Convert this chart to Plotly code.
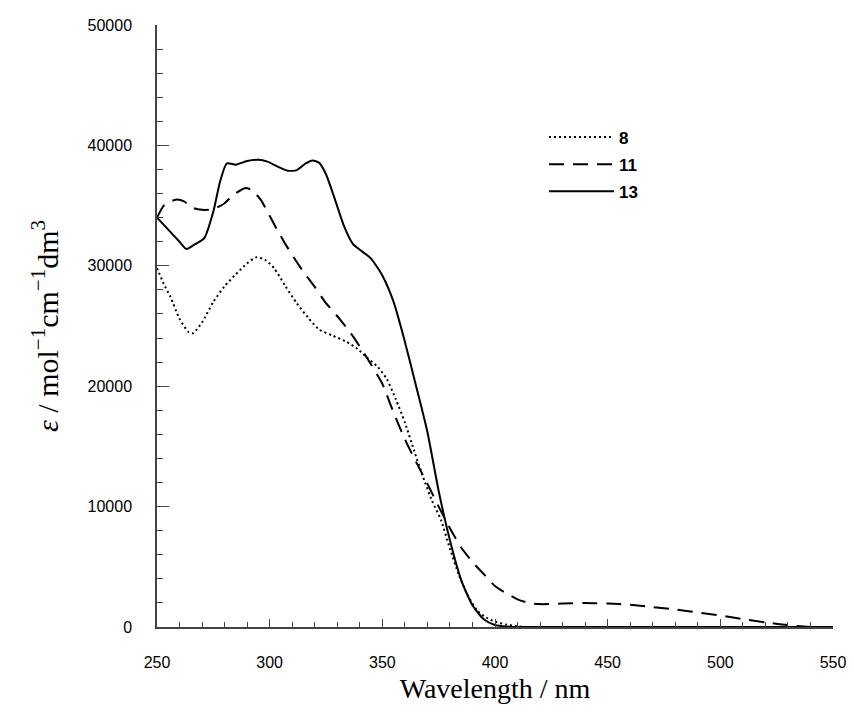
import plotly.graph_objects as go

# Series 8 (dotted)
wl_8 = [250, 253, 256, 260, 264, 266, 270, 275, 280, 285, 290, 294, 298, 302, 307, 312,
        317, 322, 328, 334, 339, 343, 348, 352, 356, 360, 364, 368, 372, 376, 380, 384,
        388, 392, 396, 400, 405, 410, 413]
eps_8 = [29800, 28500, 27400, 25600, 24500, 24400, 25300, 27000, 28300, 29300, 30200, 30700,
         30500, 29800, 28300, 26900, 25700, 24700, 24200, 23700, 23100, 22400, 21600, 20600,
         18900, 17000, 14700, 12500, 10500, 8900, 6500, 4300, 2600, 1400, 800, 450, 200, 60, 0]

# Series 11 (dashed)
wl_11 = [250, 253, 256, 259, 262, 266, 270, 275, 280, 284, 289, 292, 296, 299, 303, 307,
         311, 315, 320, 325, 331, 336, 341, 345, 350, 355, 360, 365, 370, 375, 380, 385,
         390, 395, 400, 405, 410, 415, 420, 430, 440, 450, 460, 470, 480, 490, 500, 510,
         520, 530, 540]
eps_11 = [34000, 35000, 35350, 35500, 35350, 34800, 34650, 34700, 35200, 35900, 36450, 36300,
          35500, 34500, 33100, 31800, 30600, 29500, 28250, 26900, 25600, 24400, 23000, 21800,
          20200, 17800, 15600, 13700, 11900, 10000, 8200, 6600, 5400, 4400, 3400, 2800, 2300,
          2000, 1900, 1950, 2000, 1950, 1850, 1650, 1450, 1200, 950, 650, 380, 150, 0]

# Series 13 (solid)
wl_13 = [250, 255, 260, 263, 267, 271, 275, 278, 281, 285, 290, 295, 299, 304, 308, 312,
         316, 319, 322, 325, 329, 333, 337, 341, 345, 350, 355, 360, 365, 370, 375, 380,
         385, 390, 395, 400, 405, 410, 550]
eps_13 = [34000, 33000, 32000, 31400, 31800, 32300, 34500, 37000, 38500, 38400, 38700, 38800,
          38650, 38200, 37900, 37950, 38500, 38750, 38550, 37600, 35500, 33300, 31800, 31200,
          30600, 29200, 27000, 23700, 20000, 16200, 11300, 7200, 3900, 1800, 650, 170, 40, 0, 0]

series_names = ["8", "11", "13"]

x_ticks = [250, 300, 350, 400, 450, 500, 550]
y_ticks = [0, 10000, 20000, 30000, 40000, 50000]

fig = go.Figure()
fig.add_trace(go.Scatter(x=wl_8, y=eps_8, mode="lines", name=series_names[0],
                         legendgroup="a",
                         line=dict(color="black", width=2, dash="2px,3px",
                                   shape="spline", smoothing=0.6)))
fig.add_trace(go.Scatter(x=wl_11, y=eps_11, mode="lines", name=series_names[1],
                         legendgroup="b",
                         line=dict(color="black", width=2, dash="15px,9px",
                                   shape="spline", smoothing=0.6)))
fig.add_trace(go.Scatter(x=wl_13, y=eps_13, mode="lines", name=series_names[2],
                         legendgroup="c",
                         line=dict(color="black", width=2,
                                   shape="spline", smoothing=0.6)))

tick_font = dict(family="Liberation Sans Narrow, Arial Narrow, Liberation Sans, sans-serif",
                 size=16, color="black")
title_font = dict(family="Liberation Serif, Times New Roman, serif", size=28, color="black")
ytitle_font = dict(family="Liberation Serif, Times New Roman, serif", size=30, color="black")

# The page body keeps an 8px margin, so the figure is 16px smaller than the window
fig.update_layout(
    width=838, height=708,
    margin=dict(l=149, r=13, t=17, b=89, autoexpand=False),
    paper_bgcolor="white", plot_bgcolor="white",
    showlegend=True,
    legend=dict(x=0.5725, y=0.843, xanchor="left", yanchor="top",
                bgcolor="rgba(0,0,0,0)", traceorder="grouped", tracegroupgap=2,
                itemwidth=65,
                font=dict(family="Liberation Sans, Arial, sans-serif", size=17,
                          color="black", weight="bold")),
    xaxis=dict(range=[250, 550], tickvals=x_ticks, ticktext=[str(v) for v in x_ticks],
               automargin=False,
               showline=True, linecolor="#444", linewidth=1.5, mirror=False,
               ticks="inside", ticklen=8, tickwidth=1.2, tickcolor="#444",
               minor=dict(dtick=10, tick0=250, ticks="inside", ticklen=5,
                          tickwidth=1, tickcolor="#444"),
               showgrid=False, zeroline=False, tickfont=tick_font,
               ticklabelstandoff=20, ticklabeloverflow="allow",
               title=dict(text="Wavelength / nm", font=title_font, standoff=8)),
    yaxis=dict(range=[0, 50000], tickvals=y_ticks, ticktext=[str(v) for v in y_ticks],
               automargin=False,
               showline=True, linecolor="#444", linewidth=1.5, mirror=False,
               ticks="inside", ticklen=12, tickwidth=1.2, tickcolor="#444",
               minor=dict(dtick=2000, tick0=0, ticks="inside", ticklen=6,
                          tickwidth=1, tickcolor="#444"),
               showgrid=False, zeroline=False, tickfont=tick_font,
               ticklabelstandoff=20, ticklabeloverflow="allow",
               title=dict(text="<i>ε</i> / mol<sup>−1</sup>cm<sup>−1</sup>dm<sup>3</sup>",
                          font=ytitle_font, standoff=20)),
)

fig.write_html("out.html", config={"displayModeBar": False})
